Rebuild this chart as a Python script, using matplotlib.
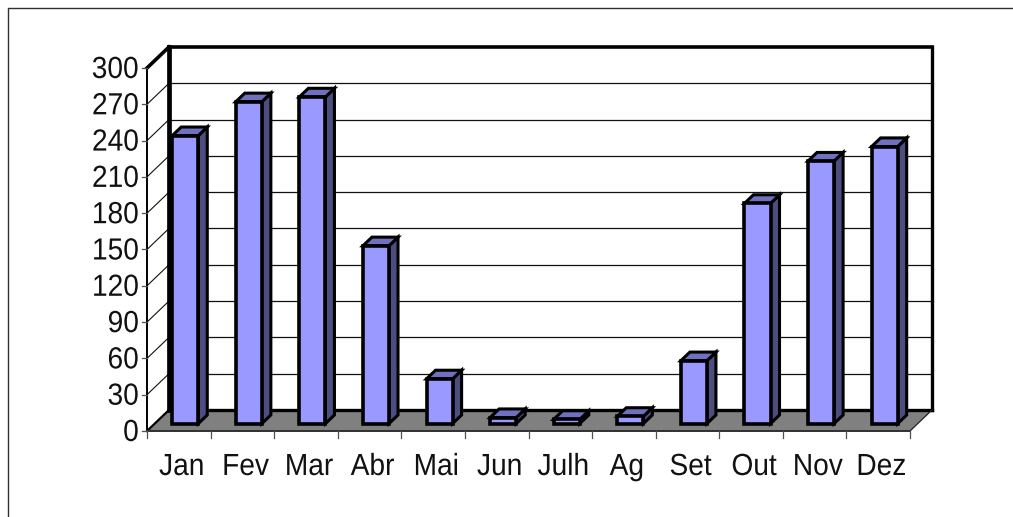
#!/usr/bin/python
import matplotlib
matplotlib.use("Agg")
import matplotlib.pyplot as plt
from matplotlib.lines import Line2D
from matplotlib.patches import Polygon
from matplotlib.patheffects import AbstractPathEffect
from matplotlib.transforms import Affine2D

months = ["Jan", "Fev", "Mar", "Abr", "Mai", "Jun", "Julh", "Ag", "Set", "Out", "Nov", "Dez"]
rain = [238, 266, 270, 147, 37, 5, 3.5, 6, 52, 182, 217, 229]
y_ticks = [0, 30, 60, 90, 120, 150, 180, 210, 240, 270, 300]

W, H = 1013, 517

# size of the 3d depth in data units (categories, values)
DEPTH_X = 0.346
DEPTH_Y = 17.4
BAR_W = 0.41
BAR_OFF = -0.02
BAR_D0 = 0.35
BAR_D1 = 0.76

FRONT = "#9999ff"
TOP = "#7070c0"
SIDE = "#4d4d80"
FLOOR = "#808080"
LABEL_SIZE = 22
SQUEEZE = 0.92


class Squeeze(AbstractPathEffect):
    # narrows a text horizontally, keeping its right edge or its centre in place
    def __init__(self, sx, anchor):
        super().__init__()
        self.sx = sx
        self.anchor = anchor

    def draw_path(self, renderer, gc, tpath, affine, rgbFace=None):
        ext = tpath.get_extents()
        cx = ext.x1 if self.anchor == "right" else (ext.x0 + ext.x1) / 2
        squeeze = Affine2D().translate(-cx, 0).scale(self.sx, 1).translate(cx, 0)
        renderer.draw_path(gc, tpath, squeeze + affine, rgbFace)


def pt(x, y, d=0.0):
    return (x + d * DEPTH_X, y + d * DEPTH_Y)


def face(ax, pts, color, z, lw=0.0, ec="black"):
    ax.add_patch(Polygon(pts, closed=True, fc=color, ec=ec, lw=lw, zorder=z,
                         clip_on=False, joinstyle="miter"))


def seg(ax, a, b, lw, color="black", z=2):
    ax.plot([a[0], b[0]], [a[1], b[1]], color=color, lw=lw, zorder=z,
            clip_on=False, solid_capstyle="projecting")


def draw_bar(ax, i, v):
    x0 = i + 0.5 - BAR_W / 2 + BAR_OFF
    x1 = x0 + BAR_W
    z = 5 + i
    # side, top, then the front face over them
    face(ax, [pt(x1, 0, BAR_D0), pt(x1, 0, BAR_D1), pt(x1, v, BAR_D1), pt(x1, v, BAR_D0)], SIDE, z, 2.2)
    face(ax, [pt(x0, v, BAR_D0), pt(x1, v, BAR_D0), pt(x1, v, BAR_D1), pt(x0, v, BAR_D1)], TOP, z, 2.2)
    face(ax, [pt(x0, 0, BAR_D0), pt(x1, 0, BAR_D0), pt(x1, v, BAR_D0), pt(x0, v, BAR_D0)], FRONT, z, 2.6)


plt.rcParams["font.family"] = ["Liberation Sans", "DejaVu Sans"]
fig = plt.figure(figsize=(W / 100, H / 100), dpi=100, facecolor="white")

# page frame, open on the right and at the bottom
fig.add_artist(Line2D([8 / W, 8 / W, 1], [0, 1 - 8 / H, 1 - 8 / H], color="#303030", lw=1.0))

ax = fig.add_axes([147 / W, (H - 431) / H, 763 / W, 363 / H])
ax.set_xlim(0, 12)
ax.set_ylim(0, 300)
ax.axis("off")

n = len(months)

# floor
face(ax, [pt(0, 0), pt(n, 0), pt(n, 0, 1), pt(0, 0, 1)], FLOOR, 1)

# grid on the back wall and on the left wall
for t in y_ticks[1:-1]:
    seg(ax, pt(0, t, 1), pt(n, t, 1), 0.9, "#101010", 2)
    seg(ax, pt(0, t), pt(0, t, 1), 0.8, "#101010", 2)

# wall outlines
seg(ax, pt(0, 300, 1), pt(n, 300, 1), 2.6, z=3)
seg(ax, pt(0, 0, 1), pt(0, 300, 1), 3.4, z=3)
seg(ax, pt(n, 0, 1), pt(n, 300, 1), 2.4, z=3)
seg(ax, pt(0, 0, 1), pt(n, 0, 1), 2.4, z=3)
seg(ax, pt(0, 300), pt(0, 300, 1), 2.6, z=3)
seg(ax, pt(0, 0), pt(0, 0, 1), 1.6, z=3)
seg(ax, pt(n, 0), pt(n, 0, 1), 0.9, "#202020", 3)

# front axes
seg(ax, pt(0, 0), pt(0, 300), 1.4, z=4)
seg(ax, pt(0, 0), pt(n, 0), 1.4, "#303030", 4)

for i, v in enumerate(rain):
    draw_bar(ax, i, v)

# ticks and labels, placed in pixels off the axes
for t in y_ticks:
    ax.plot([-5 / 763, 0], [t, t], transform=ax.get_yaxis_transform(), color="#505050",
            lw=0.9, clip_on=False, zorder=4)
    ax.annotate(str(t), xy=(0, t), xytext=(-8, -2), textcoords="offset pixels",
                ha="right", va="center", fontsize=LABEL_SIZE, color="#111111",
                annotation_clip=False, path_effects=[Squeeze(SQUEEZE, "right")])

for i in range(n + 1):
    ax.plot([i, i], [0, -7 / 1.21], color="#505050", lw=0.9, clip_on=False, zorder=4)

for i, m in enumerate(months):
    ax.annotate(m, xy=(i + 0.5, 0), xytext=(3, -36), textcoords="offset pixels",
                ha="center", va="center", fontsize=LABEL_SIZE, color="#111111",
                annotation_clip=False, path_effects=[Squeeze(SQUEEZE, "center")])

fig.savefig("out.png", dpi=100)
